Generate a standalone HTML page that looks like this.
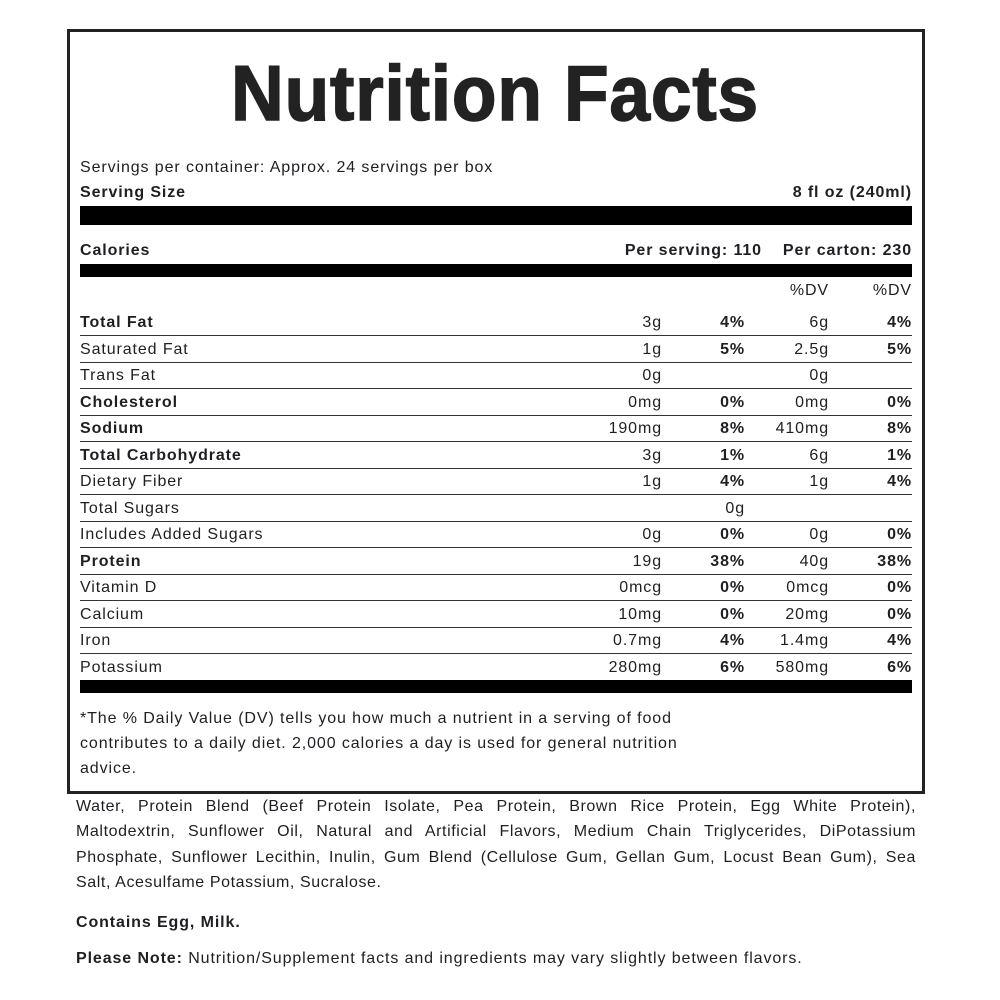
<!DOCTYPE html>
<html><head><meta charset="utf-8"><style>
body{margin:0;width:1000px;height:1000px;background:#fff;position:relative;font-family:"Liberation Sans",sans-serif;color:#1e1f22;overflow:hidden;letter-spacing:0.9px}
.a{position:absolute}
.box{left:67px;top:29px;width:852px;height:759px;border:3px solid #222}
.bar{position:absolute;left:80px;width:832px;background:#000}
.t{position:absolute;font-size:16px;line-height:20px;white-space:nowrap}
.b{font-weight:bold}
.row{position:absolute;left:80px;width:832px;height:26px;border-bottom:1.5px solid #333;font-size:16px}
.row span{position:absolute;top:4px;line-height:20px;white-space:nowrap}
.c1{right:250px;text-align:right}.c2{right:167px;font-weight:bold}.c3{right:83px}.c4{right:0;font-weight:bold}
.ing{position:absolute;left:76px;width:840px;font-size:16px;line-height:20px;text-align:justify;text-align-last:justify;letter-spacing:0.6px;white-space:nowrap}
</style></head><body>
<div class="a box"></div>
<svg class="a" style="left:0;top:0" width="1000" height="140"><text x="231" y="120" textLength="528" lengthAdjust="spacingAndGlyphs" font-family="Liberation Sans" font-weight="bold" font-size="78" fill="#222" stroke="#222" stroke-width="1.5">Nutrition Facts</text></svg>
<div class="t" style="left:80px;top:158px">Servings per container: Approx. 24 servings per box</div>
<div class="t b" style="left:80px;top:183px">Serving Size</div>
<div class="t b" style="right:88px;top:183px">8 fl oz (240ml)</div>
<div class="bar" style="top:206px;height:19px"></div>
<div class="t b" style="left:80px;top:241px">Calories</div>
<div class="t b" style="right:238px;top:241px">Per serving: 110</div>
<div class="t b" style="right:88px;top:241px">Per carton: 230</div>
<div class="bar" style="top:264px;height:13px"></div>
<div class="t" style="right:171px;top:281px">%DV</div>
<div class="t" style="right:88px;top:281px">%DV</div>

<div class="row" style="top:309px"><span class="b">Total Fat</span><span class="c1">3g</span><span class="c2">4%</span><span class="c3">6g</span><span class="c4">4%</span></div>
<div class="row" style="top:335.5px"><span>Saturated Fat</span><span class="c1">1g</span><span class="c2">5%</span><span class="c3">2.5g</span><span class="c4">5%</span></div>
<div class="row" style="top:362px"><span>Trans Fat</span><span class="c1">0g</span><span class="c3">0g</span></div>
<div class="row" style="top:388.5px"><span class="b">Cholesterol</span><span class="c1">0mg</span><span class="c2">0%</span><span class="c3">0mg</span><span class="c4">0%</span></div>
<div class="row" style="top:415px"><span class="b">Sodium</span><span class="c1">190mg</span><span class="c2">8%</span><span class="c3">410mg</span><span class="c4">8%</span></div>
<div class="row" style="top:441.5px"><span class="b">Total Carbohydrate</span><span class="c1">3g</span><span class="c2">1%</span><span class="c3">6g</span><span class="c4">1%</span></div>
<div class="row" style="top:468px"><span>Dietary Fiber</span><span class="c1">1g</span><span class="c2">4%</span><span class="c3">1g</span><span class="c4">4%</span></div>
<div class="row" style="top:494.5px"><span>Total Sugars</span><span class="c2" style="font-weight:normal">0g</span></div>
<div class="row" style="top:521px"><span>Includes Added Sugars</span><span class="c1">0g</span><span class="c2">0%</span><span class="c3">0g</span><span class="c4">0%</span></div>
<div class="row" style="top:547.5px"><span class="b">Protein</span><span class="c1">19g</span><span class="c2">38%</span><span class="c3">40g</span><span class="c4">38%</span></div>
<div class="row" style="top:574px"><span>Vitamin D</span><span class="c1">0mcg</span><span class="c2">0%</span><span class="c3">0mcg</span><span class="c4">0%</span></div>
<div class="row" style="top:600.5px"><span>Calcium</span><span class="c1">10mg</span><span class="c2">0%</span><span class="c3">20mg</span><span class="c4">0%</span></div>
<div class="row" style="top:627px"><span>Iron</span><span class="c1">0.7mg</span><span class="c2">4%</span><span class="c3">1.4mg</span><span class="c4">4%</span></div>
<div class="row" style="top:653.5px;border-bottom:none"><span>Potassium</span><span class="c1">280mg</span><span class="c2">6%</span><span class="c3">580mg</span><span class="c4">6%</span></div>
<div class="bar" style="top:680px;height:13px"></div>

<div class="t" style="left:80px;top:709px">*The % Daily Value (DV) tells you how much a nutrient in a serving of food</div>
<div class="t" style="left:80px;top:734px">contributes to a daily diet. 2,000 calories a day is used for general nutrition</div>
<div class="t" style="left:80px;top:759px">advice.</div>

<div class="ing" style="top:797px">Water, Protein Blend (Beef Protein Isolate, Pea Protein, Brown Rice Protein, Egg White Protein),</div>
<div class="ing" style="top:822px">Maltodextrin, Sunflower Oil, Natural and Artificial Flavors, Medium Chain Triglycerides, DiPotassium</div>
<div class="ing" style="top:848px">Phosphate, Sunflower Lecithin, Inulin, Gum Blend (Cellulose Gum, Gellan Gum, Locust Bean Gum), Sea</div>
<div class="ing" style="top:873px;text-align-last:left">Salt, Acesulfame Potassium, Sucralose.</div>
<div class="t b" style="left:76px;top:913px">Contains Egg, Milk.</div>
<div class="t" style="left:76px;top:949px"><b>Please Note:</b> Nutrition/Supplement facts and ingredients may vary slightly between flavors.</div>
</body></html>
